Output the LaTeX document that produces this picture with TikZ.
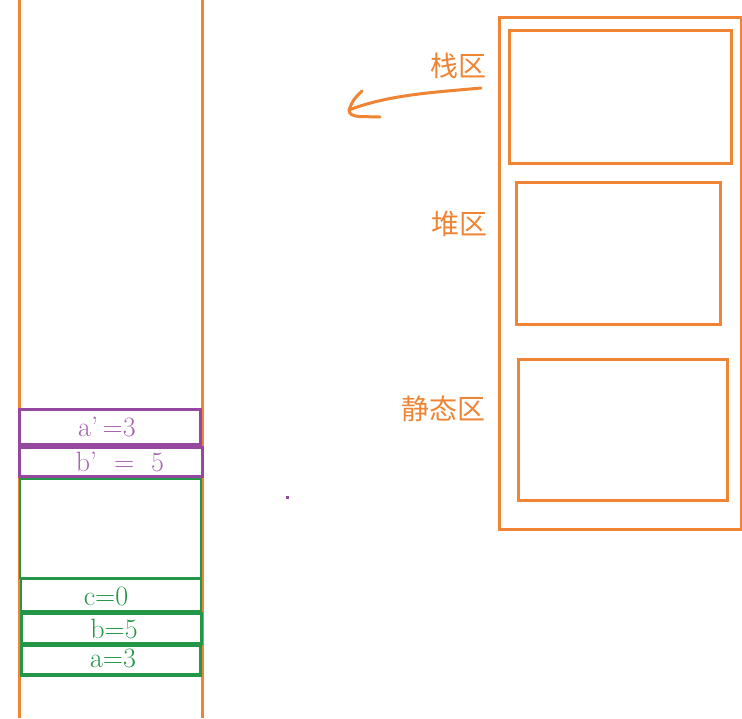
\documentclass[tikz,border=0pt]{standalone}
\usepackage{fontspec}
\newfontfamily\cjk{Noto Sans CJK SC}
\usetikzlibrary{calc}
\definecolor{memorange}{RGB}{238,132,52}
\definecolor{mempurple}{RGB}{150,72,160}
\definecolor{memgreen}{RGB}{36,150,72}
\tikzset{
  celltext/.style={inner sep=0pt, font=\fontsize{28}{28}\selectfont},
  zone/.style={draw=memorange, line width=3pt},
  zonelabel/.style={text=memorange, anchor=east, inner sep=0pt, font=\cjk\fontsize{28}{28}\selectfont}
}
\begin{document}
\begin{tikzpicture}[x=1pt, y=-1pt]
  \useasboundingbox (0,0) rectangle (742,718);

  % stack column
  \draw[memorange, line width=3pt] (19,0) -- (19,718);
  \draw[memorange, line width=3pt] (202,0) -- (202,718);

  % frame of the called function
  \draw[mempurple, line width=3pt] (19,409) rectangle (200,444);
  \node[celltext, text=mempurple!85] (ap) at (107,427) {a’\,=3};
  \draw[mempurple, line width=3pt] (19,447) rectangle (202,476);
  \node[celltext, text=mempurple!85] (bp) at (120,462) {b’\ \ =\ \ 5};

  % frame of main
  \draw[memgreen, line width=2.5pt] (20,479) rectangle (201,578);
  \draw[memgreen, line width=2.5pt] (21,579) rectangle (201,611);
  \node[celltext, text=memgreen] (c) at (106,596) {c=0};
  \draw[memgreen, line width=3pt] (21,613) rectangle (201,643);
  \node[celltext, text=memgreen] (b) at (114,629) {b=5};
  \draw[memgreen, line width=3pt] (21,645) rectangle (200,675);
  \draw[memgreen, line width=4.5pt] (20,675) -- (201,675);
  \node[celltext, text=memgreen] (a) at (113,658) {a=3};

  \fill[mempurple] (285.5,495.5) rectangle (288.5,498.5);

  % memory areas
  \draw[zone] (499,17) rectangle (741,529);
  \draw[zone] (509,30) rectangle (731,163);
  \draw[zone] (516,182) rectangle (720,324);
  \draw[zone] (518,359) rectangle (727,500);
  \node[zonelabel] (stack) at (487,66) {栈区};
  \node[zonelabel] (heap) at (488,224) {堆区};
  \node[zonelabel] (static) at (486,409) {静态区};

  % hand drawn arrow
  \coordinate (from) at (481,88);
  \coordinate (tip) at (349,110);
  \draw[memorange, line width=3pt, line cap=round, line join=round]
    (from) .. controls (440,92) and (390,94) .. (tip);
  \draw[memorange, line width=3pt, line cap=round, line join=round]
    (362,91) .. controls (353,100) .. (tip)
    .. controls (349,119) and (366,116) .. (380,117);
\end{tikzpicture}
\end{document}
